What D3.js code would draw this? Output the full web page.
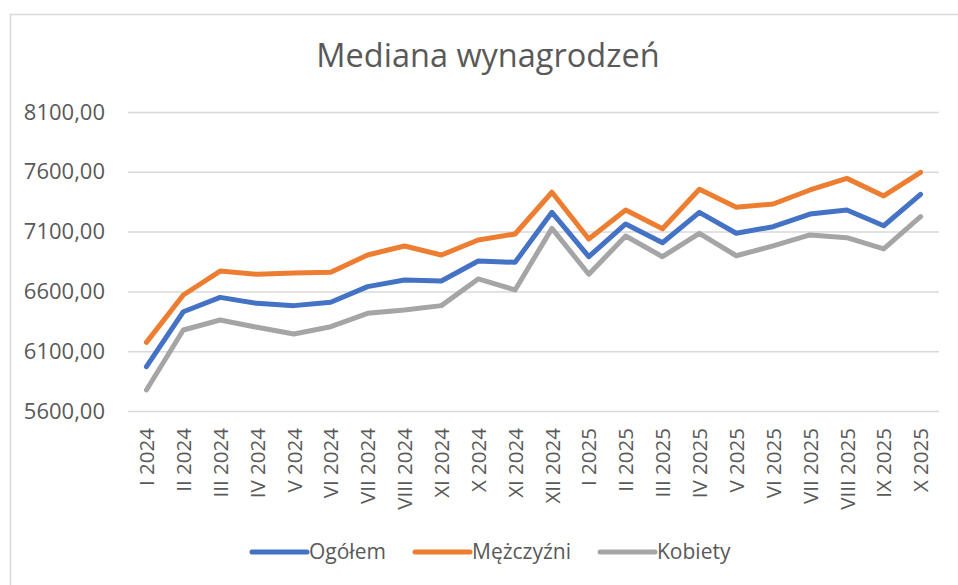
<!DOCTYPE html>
<html><head><meta charset="utf-8">
<script src="https://cdn.jsdelivr.net/npm/d3@7"></script>
<style>
html,body{margin:0;padding:0;background:#fff;}
svg{display:block;font-family:"Open Sans",sans-serif;}
</style></head>
<body>
<svg id="chart" width="958" height="585"></svg>
<script>
const categories = ["I 2024","II 2024","III 2024","IV 2024","V 2024","VI 2024","VII 2024","VIII 2024","XI 2024","X 2024","XI 2024","XII 2024","I 2025","II 2025","III 2025","IV 2025","V 2025","VI 2025","VII 2025","VIII 2025","IX 2025","X 2025"];
const ogolem    = [5971,6430,6550,6500,6481,6509,6640,6695,6687,6854,6843,7261,6890,7164,7007,7261,7086,7141,7247,7281,7149,7412];
const mezczyzni = [6174,6570,6770,6743,6754,6760,6904,6980,6904,7030,7080,7429,7038,7281,7124,7454,7303,7331,7448,7545,7398,7596];
const kobiety   = [5776,6277,6361,6300,6244,6305,6417,6444,6481,6704,6612,7127,6743,7063,6890,7086,6898,6980,7072,7049,6955,7225];
const yTicks = [5600,6100,6600,7100,7600,8100];
const seriesNames = ["Ogółem","Mężczyźni","Kobiety"];
const seriesColors = ["#4472C4","#ED7D31","#A5A5A5"];
const title = "Mediana wynagrodzeń";

const svg = d3.select("#chart");
const textColor = "#595959";
const plot = {left:128, right:939, top:112, bottom:411};

// chart border
svg.append("rect").attr("x",10.5).attr("y",14.5).attr("width",1000).attr("height",1000)
  .attr("fill","none").attr("stroke","#d9d9d9").attr("stroke-width",1.5);

// title
svg.append("text").attr("x",488).attr("y",67).attr("text-anchor","middle")
  .attr("font-size",32.5).attr("fill",textColor).text(title);

const x = d3.scalePoint().domain(d3.range(categories.length)).range([plot.left,plot.right]).padding(0.5);
const y = d3.scaleLinear().domain([5600,8100]).range([plot.bottom,plot.top]);

// gridlines
const grid = svg.append("g").attr("transform",`translate(${plot.left},0)`)
  .call(d3.axisLeft(y).tickValues(yTicks).tickSize(-(plot.right-plot.left)).tickFormat(""));
grid.select(".domain").remove();
grid.selectAll("line").attr("stroke","#d9d9d9").attr("stroke-width",1.5);

// y axis labels
const yAx = svg.append("g").attr("transform",`translate(${plot.left},0)`)
  .call(d3.axisLeft(y).tickValues(yTicks).tickSize(0).tickPadding(23)
    .tickFormat(d => d.toFixed(2).replace(".",",")));
yAx.select(".domain").remove();
yAx.selectAll("text").attr("font-size",22).attr("fill",textColor).attr("font-family","Open Sans");

// x axis labels
const xAx = svg.append("g").attr("transform",`translate(0,${plot.bottom})`)
  .call(d3.axisBottom(x).tickSize(0).tickFormat(i => categories[i]));
xAx.select(".domain").remove();
xAx.selectAll("text").attr("font-size",20.5).attr("fill",textColor).attr("font-family","Open Sans")
  .attr("transform","rotate(-90)").attr("text-anchor","end")
  .attr("x",-17).attr("y",0).attr("dy","0.35em");

// lines
const allSeries = [ogolem, mezczyzni, kobiety];
const line = d3.line().x((d,i)=>x(i)).y(d=>y(d));
svg.append("g").selectAll("path").data(allSeries).join("path")
  .attr("d",line).attr("fill","none")
  .attr("stroke",(d,i)=>seriesColors[i]).attr("stroke-width",5)
  .attr("stroke-linejoin","round").attr("stroke-linecap","round");

// legend
const legendX = [252, 415, 600];
const lg = svg.append("g").selectAll("g").data(seriesNames).join("g")
  .attr("transform",(d,i)=>`translate(${legendX[i]},552)`);
lg.append("line").attr("x1",0).attr("x2",55).attr("y1",0).attr("y2",0)
  .attr("stroke",(d,i)=>seriesColors[i]).attr("stroke-width",5).attr("stroke-linecap","round");
lg.append("text").attr("x",57).attr("y",0).attr("dy","0.35em")
  .attr("font-size",21).attr("fill",textColor).text(d=>d);
</script>
</body></html>
